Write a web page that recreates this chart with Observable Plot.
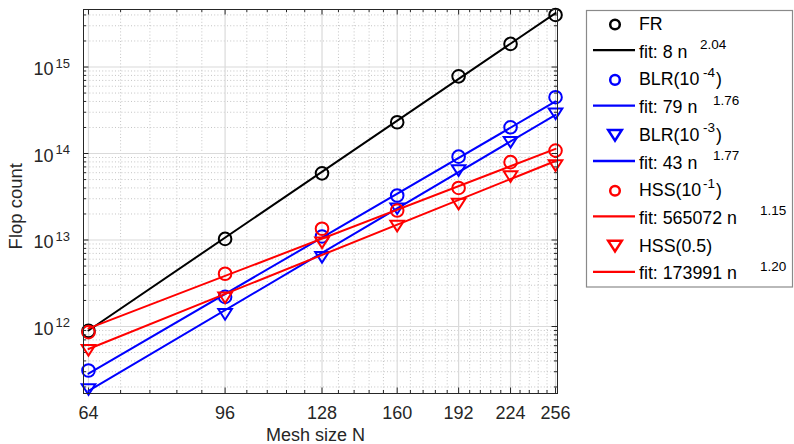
<!DOCTYPE html>
<html><head><meta charset="utf-8">
<script src="https://cdn.jsdelivr.net/npm/d3@7"></script>
<script src="https://cdn.jsdelivr.net/npm/@observablehq/plot@0.6"></script>
<style>
body{margin:0;background:#fff;}
#wrap{position:relative;width:794px;height:444px;font-family:"Liberation Sans",Arial,Helvetica,sans-serif;}
#legend{position:absolute;left:0;top:0;pointer-events:none;}
</style></head><body><div id="wrap"></div>
<script>
// ---- data ----
const meshN = [64, 96, 128, 160, 192, 224, 256];
const seriesNames = ["FR", "BLR(1e-4)", "BLR(1e-3)", "HSS(1e-1)", "HSS(0.5)"];
const seriesColors = ["#000000", "#0000ff", "#0000ff", "#ff0000", "#ff0000"];
const seriesSymbols = ["circle", "circle", "triangleDown", "circle", "triangleDown"];
const frFlops   = [8.9e11, 1.03e13, 5.9e13, 2.3e14, 7.8e14, 1.85e15, 4.0e15];
const blr4Flops = [3.1e11, 2.2e12, 1.1e13, 3.27e13, 9.2e13, 2.01e14, 4.48e14];
const blr3Flops = [1.87e11, 1.38e12, 6.3e12, 2.3e13, 6.35e13, 1.35e14, 2.88e14];
const hss1Flops = [8.6e11, 4.07e12, 1.35e13, 2.19e13, 4.0e13, 7.95e13, 1.08e14];
const hss5Flops = [5.3e11, 2.15e12, 9.3e12, 1.45e13, 2.6e13, 5.4e13, 7.26e13];
// fit lines: values at the two ends of the mesh range
const fitN = [64, 256];
const fitFR   = [9.0e11, 4.2e15];
const fitBLR4 = [2.85e11, 4.0e14];
const fitBLR3 = [1.8e11, 2.8e14];
const fitHSS1 = [9.5e11, 1.13e14];
const fitHSS5 = [5.5e11, 8.2e13];
// tick labels
const xTickLabels = ["64", "96", "128", "160", "192", "224", "256"];
const yMajorTicks = [1e12, 1e13, 1e14, 1e15];
const legendLabels = [
  ["FR", null], ["fit: 8 n", "2.04"],
  ["BLR(10", "-4"], ["fit: 79 n", "1.76"],
  ["BLR(10", "-3"], ["fit: 43 n", "1.77"],
  ["HSS(10", "-1"], ["fit: 565072 n", "1.15"],
  ["HSS(0.5)", null], ["fit: 173991 n", "1.20"]
];

// ---- tables ----
const flopSeries = [frFlops, blr4Flops, blr3Flops, hss1Flops, hss5Flops];
const fitSeries = [fitFR, fitBLR4, fitBLR3, fitHSS1, fitHSS5];
const pts = seriesNames.map((s, i) => meshN.map((n, j) => ({series: s, N: n, v: flopSeries[i][j]})));
const fits = seriesNames.map((s, i) => fitN.map((n, j) => ({series: s, N: n, v: fitSeries[i][j]})));

// minor ticks
const xMinor = d3.range(1, 30).filter(k => k % 5 !== 0).map(k => 64 + 6.4 * k);
const yMinor = [];
for (let e = 11; e <= 15; e++) for (let m = 2; m <= 9; m++) yMinor.push(m * 10 ** e);
const yDomain = [10 ** 11.2254, 10 ** 15.665];
const yMinorIn = yMinor.filter(v => v > yDomain[0] && v < yDomain[1]);

const W = 794, H = 444, mL = 83, mR = 237, mT = 9, mB = 51;
const fH = H - mT - mB, fW = W - mL - mR;
const axisCol = "#262626";
const FONT = '"Liberation Sans", Arial, Helvetica, sans-serif';

const triDown = {draw(ctx) { const a = 6.8, b = 5.3; ctx.moveTo(0, b); ctx.lineTo(-a, -b); ctx.lineTo(a, -b); ctx.closePath(); }};

const dataMarks = [];
seriesNames.forEach((s, i) => {
  const sym = seriesSymbols[i] === "circle" ? "circle" : triDown;
  dataMarks.push(Plot.dot(pts[i], {x: "N", y: "v", symbol: () => sym, r: 6.3, stroke: seriesColors[i], strokeWidth: 2, fill: "none"}));
  dataMarks.push(Plot.line(fits[i], {x: "N", y: "v", stroke: seriesColors[i], strokeWidth: 2}));
});

const chart = Plot.plot({
  width: W, height: H,
  marginLeft: mL, marginRight: mR, marginTop: mT, marginBottom: mB,
  style: {fontFamily: FONT, background: "#fff"},
  x: {type: "log", domain: [63.06, 257.5], axis: null},
  y: {type: "log", domain: yDomain, axis: null},
  symbol: {type: "identity"},
  marks: [
    Plot.ruleX(xMinor, {x: d => d, stroke: "#c4c4c4", strokeDasharray: "1,2.2"}),
    Plot.ruleY(yMinorIn, {y: d => d, stroke: "#c4c4c4", strokeDasharray: "1,2.2"}),
    Plot.ruleX(meshN, {x: d => d, stroke: "#dadada", strokeWidth: 1.2}),
    Plot.ruleY(yMajorTicks, {y: d => d, stroke: "#dadada", strokeWidth: 1.2}),
    // inward ticks
    Plot.tickX(meshN, {x: d => d, insetTop: fH - 5.5, stroke: axisCol}),
    Plot.tickX(meshN, {x: d => d, insetBottom: fH - 5.5, stroke: axisCol}),
    Plot.tickX(xMinor, {x: d => d, insetTop: fH - 3, stroke: axisCol}),
    Plot.tickX(xMinor, {x: d => d, insetBottom: fH - 3, stroke: axisCol}),
    Plot.tickY(yMajorTicks, {y: d => d, insetRight: fW - 5.5, stroke: axisCol}),
    Plot.tickY(yMajorTicks, {y: d => d, insetLeft: fW - 5.5, stroke: axisCol}),
    Plot.tickY(yMinorIn, {y: d => d, insetRight: fW - 3, stroke: axisCol}),
    Plot.tickY(yMinorIn, {y: d => d, insetLeft: fW - 3, stroke: axisCol}),
    ...dataMarks,
    Plot.frame({stroke: axisCol, strokeWidth: 1}),
    // tick labels
    Plot.text(meshN, {x: d => d, text: (d, i) => xTickLabels[i], frameAnchor: "bottom", textAnchor: "middle", lineAnchor: "top", dy: 13, fontSize: 18, fill: axisCol}),
    Plot.text(yMajorTicks, {y: d => d, text: () => "10", frameAnchor: "left", textAnchor: "end", lineAnchor: "bottom", dx: -30, dy: 8, fontSize: 18, fill: axisCol}),
    Plot.text(yMajorTicks, {y: d => d, text: d => String(Math.round(Math.log10(d))), frameAnchor: "left", textAnchor: "start", lineAnchor: "bottom", dx: -28, dy: 0.5, fontSize: 13, fill: axisCol}),
    // axis labels
    Plot.text(["Mesh size N"], {text: d => d, frameAnchor: "bottom", textAnchor: "middle", lineAnchor: "bottom", dy: 47, dx: -5, fontSize: 18, fill: axisCol}),
    Plot.text(["Flop count"], {text: d => d, frameAnchor: "left", textAnchor: "middle", lineAnchor: "bottom", rotate: -90, dx: -62, dy: 4.7, fontSize: 18.5, fill: axisCol})
  ]
});
const wrap = document.getElementById("wrap");
wrap.appendChild(chart);

// ---- legend ----
const lg = d3.select(wrap).append("svg").attr("id", "legend").attr("width", W).attr("height", H)
  .style("font-family", FONT);
lg.append("rect").attr("x", 586.5).attr("y", 10.5).attr("width", 206).attr("height", 276.5)
  .attr("fill", "#fff").attr("stroke", "#8a8a8a").attr("stroke-width", 1.2);
const supX = [null, 700, 703, 713, 703, 713, 703, 760, null, 760];
legendLabels.forEach(([txt, sup], k) => {
  const base = 30 + 27.7 * k;
  const si = Math.floor(k / 2);
  const col = seriesColors[si];
  if (k % 2 === 0) {
    const cy = base - 5.5;
    if (seriesSymbols[si] === "circle") {
      lg.append("circle").attr("cx", 615).attr("cy", cy).attr("r", 4.8).attr("fill", "none").attr("stroke", col).attr("stroke-width", 2.5);
    } else {
      lg.append("path").attr("d", `M615,${cy + 5.3}L${615 - 6.8},${cy - 5.3}L${615 + 6.8},${cy - 5.3}Z`).attr("fill", "none").attr("stroke", col).attr("stroke-width", 2.5);
    }
  } else {
    lg.append("line").attr("x1", 593).attr("x2", 635).attr("y1", base - 7.5).attr("y2", base - 7.5).attr("stroke", col).attr("stroke-width", 2.3);
  }
  const t = lg.append("text").attr("x", 639).attr("y", base).attr("font-size", 17.8).attr("fill", "#000");
  t.append("tspan").text(txt);
  if (sup) {
    t.append("tspan").attr("x", supX[k]).attr("dy", -8.5).attr("font-size", 13.5).text(sup);
    if (k % 2 === 0) t.append("tspan").attr("dy", 8.5).attr("dx", 1).attr("font-size", 17.8).text(")");
  }
});
</script></body></html>
